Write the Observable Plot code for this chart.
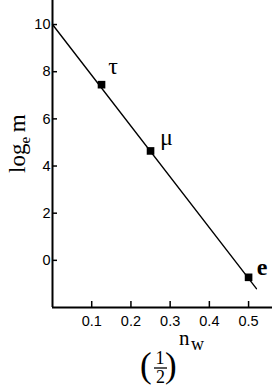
<!DOCTYPE html>
<html><head><meta charset="utf-8">
<script src="https://cdn.jsdelivr.net/npm/d3@7"></script>
<script src="https://cdn.jsdelivr.net/npm/@observablehq/plot@0.6"></script>
<style>body{margin:0;background:#fff}</style>
</head><body><div id="chart"></div>
<script>
// data
const particles = ["e", "μ", "τ"];
const halfPowNw = [0.5, 0.25, 0.125];
const logMass = [-0.72, 4.64, 7.45];
const fitX = [0, 0.52];
const fitY = [10.0, -1.2];
const xTicks = [0.1, 0.2, 0.3, 0.4, 0.5];
const yTicks = [0, 2, 4, 6, 8, 10];

const points = particles.map((p, i) => ({p, x: halfPowNw[i], y: logMass[i]}));
const fit = fitX.map((x, i) => ({x, y: fitY[i]}));

const serif = "'Liberation Serif', 'Times New Roman', serif";
const labelStyle = {p: {dx: 13.5, dy: -10, fontWeight: "bold"}, "μ": {dx: 16, dy: -14}, "τ": {dx: 11.5, dy: -18}};

const chart = Plot.plot({
  width: 272,
  height: 387,
  marginLeft: 52,
  marginRight: 0,
  marginTop: 0,
  marginBottom: 80,
  style: {fontFamily: "'Liberation Sans', Arial, sans-serif", fontSize: "14.5px", color: "black", background: "white"},
  x: {domain: [0, 0.561]},
  y: {domain: [-2, 11.02]},
  marks: [
    Plot.axisY(yTicks, {anchor: "left", tickSize: -5, tickPadding: 7, label: null, stroke: "black", strokeWidth: 1.5, fill: "black"}),
    Plot.axisX(xTicks, {anchor: "bottom", tickSize: -6, tickPadding: 14, label: null, tickFormat: d => String(d), stroke: "black", strokeWidth: 1.5, fill: "black"}),
    Plot.ruleX([0], {stroke: "black", strokeWidth: 2}),
    Plot.ruleY([-2], {stroke: "black", strokeWidth: 2}),
    Plot.line(fit, {x: "x", y: "y", stroke: "black", strokeWidth: 1.4}),
    Plot.dot(points, {x: "x", y: "y", symbol: "square", r: 4.3, fill: "black", stroke: "none"}),
    ...particles.map(name => {
      const s = name === "e" ? labelStyle.p : labelStyle[name];
      return Plot.text(points.filter(d => d.p === name), {
        x: "x", y: "y", text: "p", dx: s.dx, dy: s.dy,
        fontFamily: serif, fontSize: 24, fontWeight: s.fontWeight || "normal",
        fill: "black", textAnchor: "middle", lineAnchor: "middle"
      });
    })
  ]
});
document.getElementById("chart").append(chart);

const svg = d3.select(chart);
// y label: log_e m
const yl = svg.append("text")
  .attr("transform", "translate(25,173) rotate(-90)")
  .attr("text-anchor", "start")
  .attr("font-family", serif).attr("font-size", 23).attr("fill", "black");
yl.append("tspan").text("log");
yl.append("tspan").attr("font-size", 15).attr("dy", 5).text("e");
yl.append("tspan").attr("dy", -5).text("\u2009m");

// x label: (1/2)^{n_w}
const g = svg.append("g").attr("font-family", serif).attr("fill", "black").attr("text-anchor", "start");
g.append("text").attr("x", 140).attr("y", 377).attr("font-size", 35).text("(");
g.append("text").attr("x", 160).attr("y", 364).attr("font-size", 18).attr("text-anchor", "middle").text("1");
g.append("line").attr("x1", 154).attr("x2", 167).attr("y1", 368).attr("y2", 368).attr("stroke", "black").attr("stroke-width", 1.3);
g.append("text").attr("x", 160.5).attr("y", 383).attr("font-size", 18).attr("text-anchor", "middle").text("2");
g.append("text").attr("x", 165).attr("y", 377).attr("font-size", 35).text(")");
g.append("text").attr("x", 179).attr("y", 345).attr("font-size", 21).text("n");
g.append("text").attr("x", 191).attr("y", 350).attr("font-size", 18).text("w");
</script>
</body></html>
